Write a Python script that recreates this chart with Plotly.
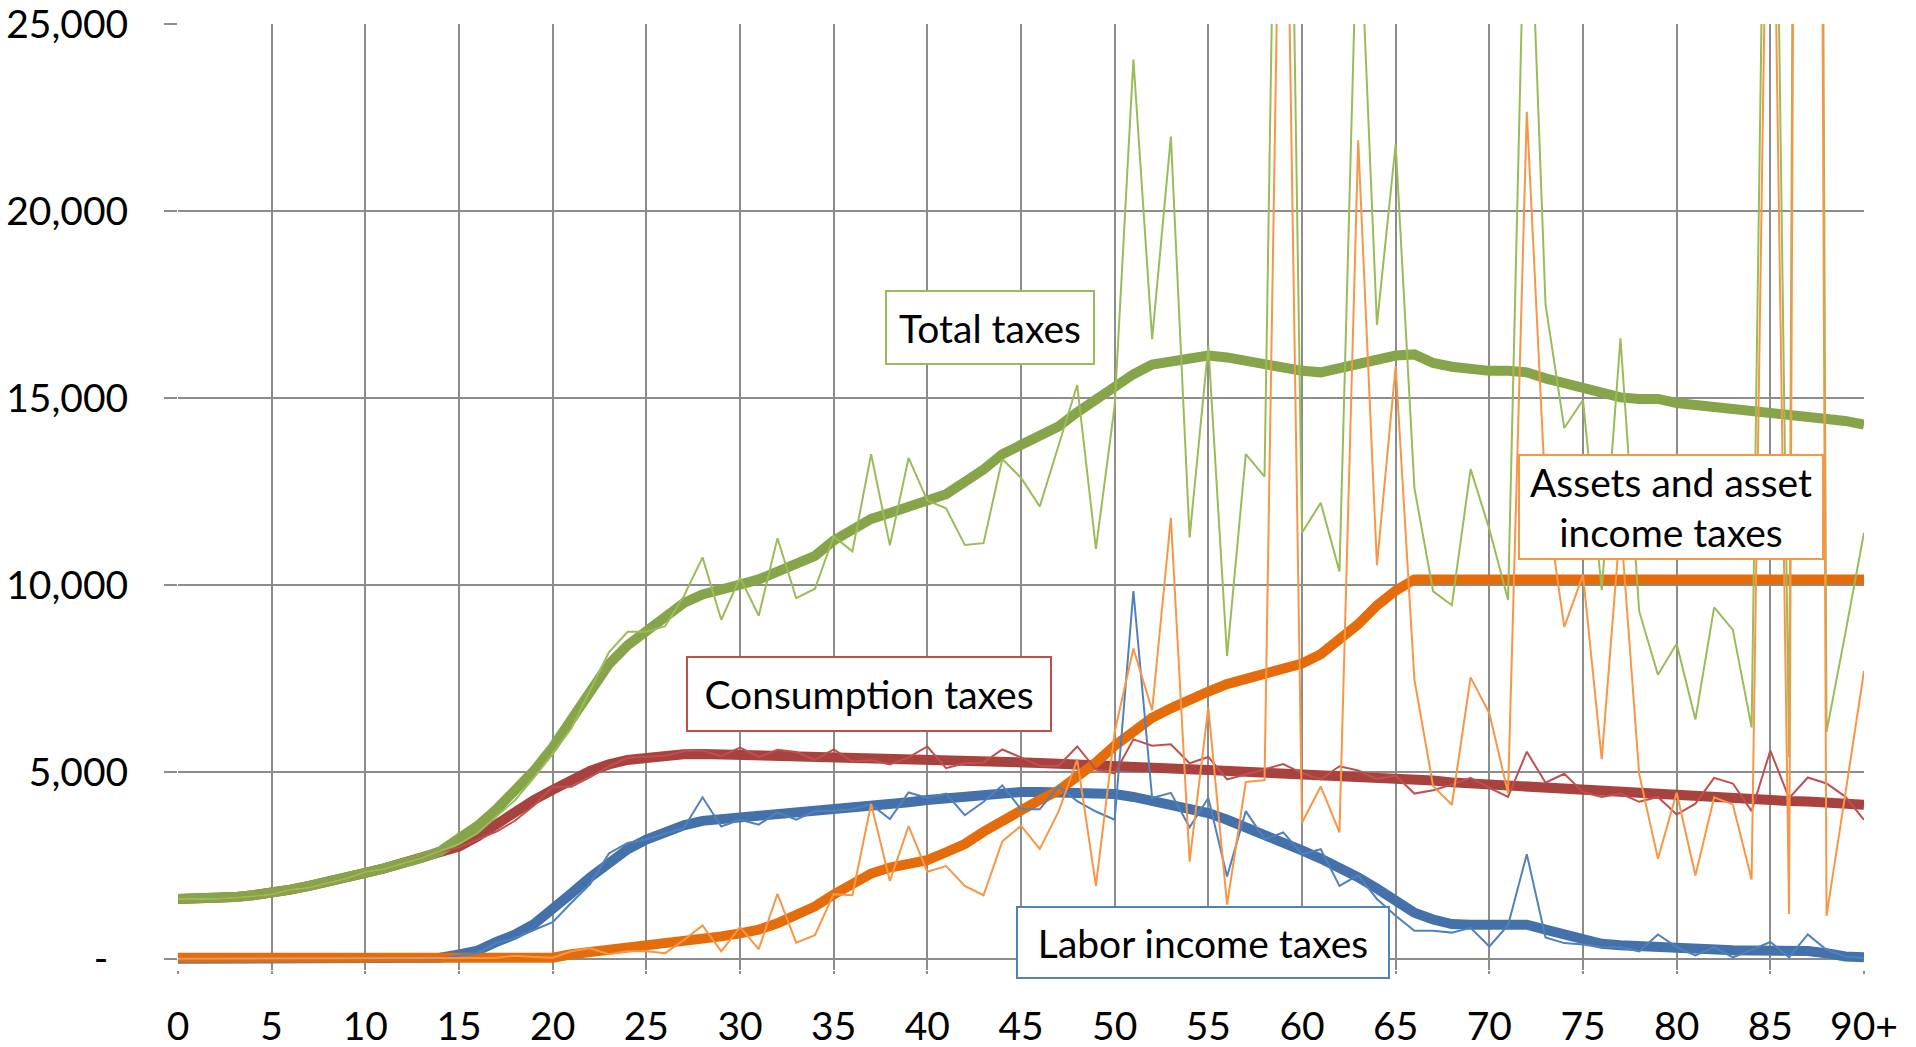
import plotly.graph_objects as go

ages = list(range(91))
x_tick_vals = list(range(0, 91, 5))
x_tick_text = [str(v) for v in range(0, 90, 5)] + ["90+"]
y_tick_vals = [0, 5000, 10000, 15000, 20000, 25000]
y_tick_text = ["-\u00a0\u00a0", "5,000", "10,000", "15,000", "20,000", "25,000"]

labor_raw = [0]*15 + [
    90, 150, 430, 550, 770, 980, 1500, 2000, 2820, 3100,
    3200, 3350, 3500, 4320, 3540, 3720, 3590, 3920, 3720, 3950,
    3960, 4000, 4130, 3740, 4450, 4300, 4420, 3840, 4200, 4640,
    4000, 4000, 4620, 4220, 3940, 3720, 9840, 4300, 4440, 3520,
    4300, 2200, 3950, 3200, 3380, 2800, 2930, 1950, 2240, 1600,
    1150, 750, 750, 700, 830, 330, 900, 2800, 570, 420,
    380, 310, 310, 200, 650, 310, 90, 310, 40, 240,
    450, 40, 650, 240, 60, 20]
labor_smooth = [0]*14 + [
    30, 120, 220, 450, 650, 930, 1300, 1750, 2180, 2580, 2930,
    3190, 3400, 3570, 3690, 3730, 3780, 3830, 3860, 3900, 3940,
    3980, 4030, 4080, 4130, 4190, 4250, 4300, 4350, 4400, 4440,
    4460, 4460, 4460, 4450, 4430, 4410, 4330, 4230, 4120, 4010,
    3900, 3720, 3530, 3330, 3120, 2900, 2680, 2440, 2180, 1880,
    1550, 1230, 1050, 930, 910, 910, 910, 910, 780, 640,
    490, 400, 360, 330, 300, 270, 250, 240, 230, 220,
    220, 220, 210, 150, 60, 40]

cons_raw = [
    1600, 1600, 1600, 1630, 1670, 1720, 1850, 1900, 2030, 2150,
    2320, 2400, 2550, 2700, 2870, 2980, 3200, 3400, 3700, 4100,
    4600, 4600, 4860, 5150, 5380, 5400, 5430, 5550, 5580, 5420,
    5650, 5400, 5590, 5530, 5320, 5600, 5280, 5320, 5200, 5390,
    5680, 5100, 5230, 5250, 5600, 5390, 5160, 5160, 5680, 5070,
    4960, 5870, 5700, 5740, 5230, 5400, 4800, 4930, 5060, 5210,
    4970, 4800, 5150, 5040, 4810, 4900, 4420, 4510, 4660, 4840,
    4570, 4330, 5540, 4710, 4950, 4460, 4330, 4420, 4200, 4330,
    3860, 4150, 4840, 4690, 3950, 5570, 4300, 4850, 4690, 4340,
    3720]
cons_smooth = [
    1600, 1600, 1600, 1650, 1700, 1750, 1850, 1950, 2050, 2150,
    2300, 2420, 2550, 2700, 2830, 3000, 3270, 3600, 3950, 4250,
    4520, 4800, 5030, 5200, 5320, 5370, 5430, 5470, 5480, 5470,
    5460, 5440, 5420, 5410, 5390, 5370, 5360, 5350, 5340, 5320,
    5300, 5290, 5290, 5290, 5280, 5260, 5240, 5220, 5190, 5160,
    5130, 5120, 5110, 5090, 5070, 5050, 5030, 5010, 5000, 4980,
    4960, 4940, 4920, 4900, 4880, 4860, 4820, 4770, 4720, 4690,
    4650, 4630, 4610, 4580, 4550, 4510, 4480, 4470, 4460, 4440,
    4410, 4380, 4350, 4310, 4270, 4240, 4220, 4210, 4180, 4150,
    4120]

assets_raw = [0]*16 + [
    20, 30, 80, 50, 30, 200, 280, 120, 200, 200,
    150, 500, 890, 200, 850, 260, 1740, 430, 630, 1730,
    1700, 4140, 2080, 3550, 2330, 2480, 1950, 1700, 3140, 3560,
    2940, 3930, 5330, 1950, 6070, 8300, 6650, 11800, 2600, 6730,
    1450, 4730, 4780, 36000, 3640, 4610, 3380, 21900, 10530, 15860,
    7470, 4620, 4120, 7530, 6570, 4430, 22660, 12400, 8880, 10270,
    5340, 11700, 4940, 2680, 4440, 2230, 4320, 4130, 2120, 36000,
    1200, 115000, 1150, 4400, 7700]
assets_smooth = [30]*21 + [
    120, 180, 220, 260, 300, 360, 420, 500, 600, 680,
    780, 950, 1150, 1400, 1720, 2000, 2280, 2440, 2560, 2640,
    2850, 3070, 3400, 3700, 3980, 4250, 4500, 4850, 5250, 5700,
    6080, 6450, 6700, 6950, 7150, 7350, 7500, 7620, 7750, 7900,
    8150, 8550, 8950, 9450, 9850, 10150] + [10150]*24

total_raw = [
    1600, 1600, 1600, 1630, 1670, 1720, 1850, 1900, 2030, 2150,
    2320, 2400, 2550, 2700, 2880, 3070, 3370, 3800, 4250, 4850,
    5490, 6170, 7190, 8200, 8750, 8750, 8900, 9700, 10740, 9070,
    10200, 9180, 11250, 9650, 9900, 11300, 10900, 13500, 11060, 13400,
    12260, 12050, 11070, 11120, 13370, 12870, 12100, 13700, 15350, 10970,
    14800, 24060, 16580, 22000, 11270, 16400, 8100, 13500, 12900, 44500,
    11400, 12200, 10360, 29000, 16960, 21800, 12600, 9830, 9460, 13100,
    11500, 9600, 31000, 17500, 14200, 14950, 9860, 16600, 9300, 7600,
    8430, 6400, 9400, 8800, 6190, 42000, 5400, 120500, 6070, 8700,
    11400]
total_smooth = [
    1600, 1600, 1600, 1650, 1700, 1750, 1850, 1950, 2050, 2150,
    2300, 2420, 2550, 2700, 2880, 3200, 3560, 4000, 4470, 5030,
    5660, 6400, 7190, 7880, 8390, 8780, 9180, 9520, 9750, 9860,
    10010, 10150, 10340, 10530, 10780, 11190, 11520, 11770, 11930, 12100,
    12260, 12430, 12760, 13090, 13500, 13750, 14030, 14240, 14620, 14980,
    15350, 15640, 15900, 16000, 16090, 16140, 16090, 16000, 15870, 15780,
    15730, 15690, 15810, 15940, 16060, 16140, 16170, 15940, 15840, 15780,
    15730, 15730, 15690, 15530, 15400, 15230, 15120, 15020, 14980, 14980,
    14870, 14820, 14770, 14700, 14650, 14650, 14600, 14540, 14440, 14390,
    14290]

labels = {
    "total": "Total taxes",
    "cons": "Consumption taxes",
    "labor": "Labor income taxes",
    "assets": "Assets and asset<br>income taxes",
}

FONT = "Lato"
thick_w = 10
thin_w = 2

fig = go.Figure()
# thick smoothed lines
for y, c in [(labor_smooth, "#4471A9"), (cons_smooth, "#A8423F"),
             (assets_smooth, "#E46C0A"), (total_smooth, "#86A44A")]:
    fig.add_trace(go.Scatter(x=ages, y=y, mode="lines",
                             line=dict(color=c, width=thick_w), hoverinfo="skip"))
# thin raw lines
for y, c in [(labor_raw, "#4F81BD"), (cons_raw, "#C0504D"),
             (total_raw, "#9BBB59"), (assets_raw, "#F79646")]:
    fig.add_trace(go.Scatter(x=ages, y=y, mode="lines",
                             line=dict(color=c, width=thin_w), hoverinfo="skip"))

def box(text, x, y, w, h, color):
    return dict(text=text, x=x, y=y, xref="x", yref="y", showarrow=False,
                font=dict(family=FONT, size=39, color="black"),
                bgcolor="white", bordercolor=color, borderwidth=2, borderpad=0,
                width=w, height=h, align="center", valign="middle")

fig.update_layout(
    width=1916, height=1047,
    margin=dict(l=178, r=52, t=24, b=77, autoexpand=False),
    paper_bgcolor="white", plot_bgcolor="white",
    showlegend=False,
    font=dict(family=FONT, size=39, color="black"),
    xaxis=dict(range=[0, 90], tickvals=x_tick_vals, ticktext=x_tick_text,
               showgrid=True, gridcolor="#8c8c8c", gridwidth=2,
               zeroline=False, showline=False, automargin=False,
               ticks="outside", ticklen=3, tickwidth=2, tickcolor="#8c8c8c",
               ticklabelstandoff=19,
               tickfont=dict(family=FONT, size=39, color="black")),
    yaxis=dict(range=[-300, 25010], tickvals=y_tick_vals, ticktext=y_tick_text,
               showgrid=True, gridcolor="#8c8c8c", gridwidth=2,
               zeroline=False, showline=False, automargin=False,
               ticks="outside", ticklen=13, tickwidth=2, tickcolor="#8c8c8c",
               ticklabelstandoff=28,
               tickfont=dict(family=FONT, size=39, color="black")),
    annotations=[
        box(labels["total"], 43.33, 16890, 206, 71, "#9BBB59"),
        box(labels["cons"], 36.87, 7090, 362, 72, "#C0504D"),
        box(labels["labor"], 54.7, 440, 370, 69, "#4F81BD"),
        box(labels["assets"], 79.7, 12090, 302, 102, "#F79646"),
    ],
)

fig.write_html(
    "out.html",
    config={"displayModeBar": False},
    post_script="document.body.style.margin='0px';document.body.style.overflow='hidden';",
)
